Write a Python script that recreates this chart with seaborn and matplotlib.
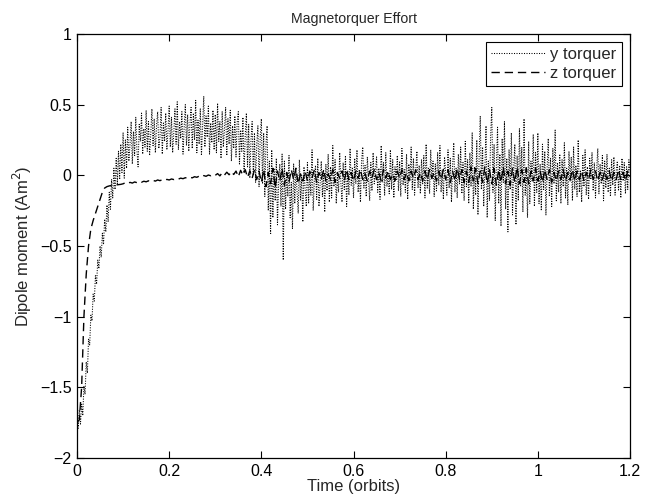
import numpy as np
import pandas as pd
import matplotlib
matplotlib.use("Agg")
import matplotlib.pyplot as plt
import seaborn as sns

# ---- data ----
t_start, t_end = 0.0, 1.2

# y torquer, sampled every 0.0025 orbit
y_torquer = [
    -1.70, -1.79, -1.66, -1.76, -1.62, -1.70, -1.49, -1.55, -1.32, -1.40,
    -1.16, -1.20, -0.99, -1.03, -0.84, -0.89, -0.71, -0.77, -0.60, -0.66,
    -0.50, -0.58, -0.41, -0.49, -0.31, -0.40, -0.21, -0.33, -0.12, -0.24,
    -0.03, -0.16, 0.05, -0.10, 0.12, -0.06, 0.17, -0.03, 0.22, 0.02,
    0.30, -0.02, 0.25, 0.05, 0.34, 0.10, 0.22, 0.38, 0.08, 0.31,
    0.14, 0.41, 0.18, 0.06, 0.36, 0.24, 0.44, 0.15, 0.33, 0.20,
    0.46, 0.17, 0.38, 0.14, 0.29, 0.47, 0.21, 0.40, 0.16, 0.35,
    0.45, 0.19, 0.27, 0.48, 0.15, 0.37, 0.24, 0.44, 0.18, 0.32,
    0.49, 0.20, 0.41, 0.16, 0.30, 0.47, 0.22, 0.52, 0.18, 0.38,
    0.26, 0.45, 0.15, 0.34, 0.50, 0.21, 0.43, 0.17, 0.36, 0.48,
    0.19, 0.44, 0.25, 0.53, 0.16, 0.39, 0.22, 0.47, 0.14, 0.35,
    0.56, 0.20, 0.42, 0.27, 0.49, 0.15, 0.37, 0.23, 0.46, 0.18,
    0.43, 0.16, 0.51, 0.24, 0.38, 0.12, 0.45, 0.20, 0.33, 0.48,
    0.14, 0.40, 0.22, 0.46, 0.10, 0.35, 0.19, 0.42, 0.13, 0.37,
    0.45, 0.08, 0.32, 0.17, 0.41, 0.02, 0.28, 0.44, 0.06, 0.36,
    -0.02, 0.25, 0.38, 0.00, 0.30, -0.05, 0.22, 0.35, -0.08, 0.27,
    0.40, -0.06, 0.30, -0.15, 0.22, 0.35, -0.25, 0.10, -0.42, 0.18,
    -0.30, 0.05, -0.18, 0.12, -0.35, -0.05, 0.08, -0.22, 0.15, -0.60,
    0.10, -0.24, 0.02, -0.15, 0.14, -0.30, -0.05, -0.38, 0.08, -0.20,
    0.04, -0.12, -0.27, 0.11, -0.18, 0.00, -0.33, 0.06, -0.10, -0.22,
    0.09, -0.20, 0.02, -0.14, 0.18, -0.25, -0.03, 0.07, -0.17, 0.12,
    -0.22, -0.06, 0.10, -0.15, 0.04, -0.26, 0.08, -0.11, 0.15, -0.19,
    0.06, -0.16, 0.21, -0.08, 0.11, -0.20, 0.00, -0.12, 0.16, -0.05,
    -0.19, 0.09, -0.10, 0.14, -0.22, 0.03, -0.14, 0.19, -0.07, 0.05,
    -0.16, 0.12, -0.06, 0.18, -0.12, 0.04, -0.19, 0.10, 0.20, -0.09,
    0.07, -0.15, 0.13, -0.03, -0.18, 0.09, -0.11, 0.16, -0.06, 0.02,
    0.13, -0.12, 0.05, -0.17, 0.21, -0.05, 0.09, -0.14, 0.16, -0.08,
    0.02, -0.13, 0.18, -0.10, 0.11, -0.16, 0.06, -0.03, 0.14, -0.11,
    0.10, -0.15, 0.19, -0.07, 0.04, -0.12, 0.15, -0.17, 0.08, -0.04,
    0.20, -0.10, 0.12, -0.14, 0.03, 0.17, -0.09, 0.07, -0.13, 0.11,
    -0.06, 0.14, -0.16, 0.22, -0.09, 0.05, -0.13, 0.18, -0.03, 0.10,
    -0.15, 0.08, -0.11, 0.16, -0.07, 0.21, -0.12, 0.04, -0.17, 0.13,
    0.02, -0.14, 0.18, -0.09, 0.12, -0.19, 0.07, 0.23, -0.12, 0.05,
    -0.16, 0.15, -0.06, 0.20, -0.13, 0.09, -0.18, 0.24, -0.08, 0.11,
    -0.20, 0.16, -0.08, 0.30, -0.24, 0.06, -0.14, 0.25, -0.28, 0.12,
    0.42, -0.10, 0.20, -0.22, 0.04, 0.35, -0.30, 0.10, -0.18, 0.28,
    0.48, -0.12, 0.22, -0.32, 0.08, 0.34, -0.20, 0.15, -0.36, 0.26,
    -0.05, 0.38, -0.24, 0.12, -0.40, 0.18, -0.10, 0.30, -0.28, 0.05,
    0.22, -0.35, 0.14, -0.18, 0.33, -0.08, 0.20, -0.26, 0.40, -0.14,
    0.06, -0.30, 0.24, -0.20, 0.10, -0.04, 0.29, -0.22, 0.16, -0.12,
    0.30, -0.20, 0.08, -0.25, 0.22, -0.10, 0.17, -0.28, 0.04, 0.26,
    -0.15, 0.12, -0.22, 0.19, -0.06, 0.32, -0.18, 0.09, -0.12, 0.15,
    -0.20, 0.11, -0.08, 0.23, -0.16, 0.05, -0.21, 0.17, -0.04, 0.13,
    -0.18, 0.20, -0.10, 0.07, -0.15, 0.25, -0.12, 0.03, -0.19, 0.14,
    -0.08, 0.18, -0.14, 0.06, -0.17, 0.12, -0.03, 0.16, -0.11, 0.09,
    -0.16, 0.04, 0.19, -0.13, 0.08, -0.06, 0.14, -0.18, 0.10, -0.09,
    0.15, -0.12, 0.05, -0.15, 0.11, -0.07, 0.13, -0.14, 0.03, 0.10,
    -0.11, 0.07, -0.16, 0.12, -0.04, 0.09, -0.13, 0.06, -0.10, 0.11, 0.02,
]

# z torquer, sampled every 0.005 orbit
z_torquer = [
    -1.75, -1.73, -1.50, -1.00, -0.70, -0.50, -0.38, -0.32, -0.27, -0.22,
    -0.17, -0.12, -0.09, -0.08, -0.075, -0.072, -0.070, -0.068, -0.066, -0.064,
    -0.060, -0.052, -0.058, -0.050, -0.055, -0.047, -0.052, -0.044, -0.049, -0.042,
    -0.046, -0.039, -0.043, -0.036, -0.041, -0.033, -0.038, -0.031, -0.035, -0.029,
    -0.033, -0.026, -0.030, -0.023, -0.027, -0.020, -0.024, -0.017, -0.021, -0.014,
    -0.018, -0.010, -0.014, -0.006, -0.011, -0.002, -0.007, 0.002, -0.003, 0.006,
    0.000, 0.012, -0.004, 0.018, 0.002, 0.022, 0.004, 0.026, 0.006, 0.030,
    -0.010, 0.035, 0.000, 0.040, -0.015, 0.032, -0.020, 0.038, -0.030, 0.030,
    -0.05, 0.04, -0.08, 0.02, -0.06, 0.05, -0.09, 0.03, -0.04, 0.05,
    -0.07, 0.02, -0.05, 0.04, -0.03, 0.05, -0.06, 0.01, -0.04, 0.03,
    -0.04, 0.03, -0.02, 0.04, -0.05, 0.02, -0.03, 0.04, -0.04, 0.01,
    -0.03, 0.04, -0.05, 0.02, -0.02, 0.03, -0.04, 0.04, -0.03, 0.02,
    -0.04, 0.03, -0.02, 0.04, -0.03, 0.01, -0.04, 0.03, -0.02, 0.04,
    -0.03, 0.02, -0.04, 0.04, -0.02, 0.03, -0.03, 0.01, -0.04, 0.03,
    -0.02, 0.04, -0.03, 0.02, -0.04, 0.03, -0.02, 0.04, -0.03, 0.02,
    -0.04, 0.03, -0.03, 0.04, -0.02, 0.02, -0.04, 0.03, -0.03, 0.04,
    -0.03, 0.04, -0.05, 0.03, -0.04, 0.05, -0.03, 0.04, -0.05, 0.03,
    -0.05, 0.06, -0.04, 0.05, -0.06, 0.03, -0.05, 0.06, -0.06, 0.04,
    -0.06, 0.05, -0.07, 0.04, -0.05, 0.06, -0.06, 0.03, -0.07, 0.05,
    -0.05, 0.06, -0.06, 0.04, -0.05, 0.05, -0.06, 0.03, -0.04, 0.05,
    -0.04, 0.03, -0.05, 0.04, -0.03, 0.04, -0.05, 0.02, -0.04, 0.03,
    -0.03, 0.04, -0.04, 0.02, -0.03, 0.04, -0.04, 0.03, -0.03, 0.03,
    -0.04, 0.02, -0.03, 0.04, -0.03, 0.03, -0.04, 0.02, -0.03, 0.03,
    -0.03, 0.03, -0.04, 0.02, -0.03, 0.04, -0.03, 0.02, -0.04, 0.03, -0.01,
]

x_ticks = [0, 0.2, 0.4, 0.6, 0.8, 1.0, 1.2]
x_tick_labels = ["0", "0.2", "0.4", "0.6", "0.8", "1", "1.2"]
y_ticks = [-2, -1.5, -1, -0.5, 0, 0.5, 1]
y_tick_labels = ["\u22122", "\u22121.5", "\u22121", "\u22120.5", "0", "0.5", "1"]

df_y = pd.DataFrame({"t": np.linspace(t_start, t_end, len(y_torquer)), "v": y_torquer})
df_z = pd.DataFrame({"t": np.linspace(t_start, t_end, len(z_torquer)), "v": z_torquer})

# ---- style ----
sns.set_style("ticks")
plt.rcParams["font.family"] = ["Liberation Sans", "DejaVu Sans"]
plt.rcParams["xtick.direction"] = "in"
plt.rcParams["ytick.direction"] = "in"

fig = plt.figure(figsize=(6.45, 5.04), dpi=100)
ax = fig.add_axes([0.1194, 0.0913, 0.8574, 0.8413])

sns.lineplot(data=df_y, x="t", y="v", ax=ax, color="black", lw=0.75,
             linestyle=(0, (1, 1.4)), estimator=None, sort=False,
             label="y torquer")
sns.lineplot(data=df_z, x="t", y="v", ax=ax, color="black", lw=1.0,
             linestyle=(0, (6, 3.5)), estimator=None, sort=False,
             label="z torquer")

ax.set_xlim(0, 1.2)
ax.set_ylim(-2, 1)
ax.set_xticks(x_ticks)
ax.set_xticklabels(x_tick_labels)
ax.set_yticks(y_ticks)
ax.set_yticklabels(y_tick_labels)
ax.tick_params(axis="both", which="both", direction="in", top=True, right=True,
               length=5, width=0.8, labelsize=11.5, colors="black", pad=4)
for s in ax.spines.values():
    s.set_visible(True)
    s.set_linewidth(0.9)
    s.set_color("black")

ax.set_xlabel("Time (orbits)", fontsize=12, labelpad=0)
ax.set_ylabel("Dipole moment (Am$^2$)", fontsize=12, labelpad=4)
ax.set_title("Magnetorquer Effort", fontsize=10.2, pad=8)

leg = ax.legend(loc="upper right", fontsize=12, frameon=True, fancybox=False,
                edgecolor="black", framealpha=1, borderaxespad=0.5,
                handlelength=3.2, borderpad=0.3, labelspacing=0.2,
                handletextpad=0.35)
leg.get_frame().set_linewidth(0.8)

fig.savefig("out.png", dpi=100)
